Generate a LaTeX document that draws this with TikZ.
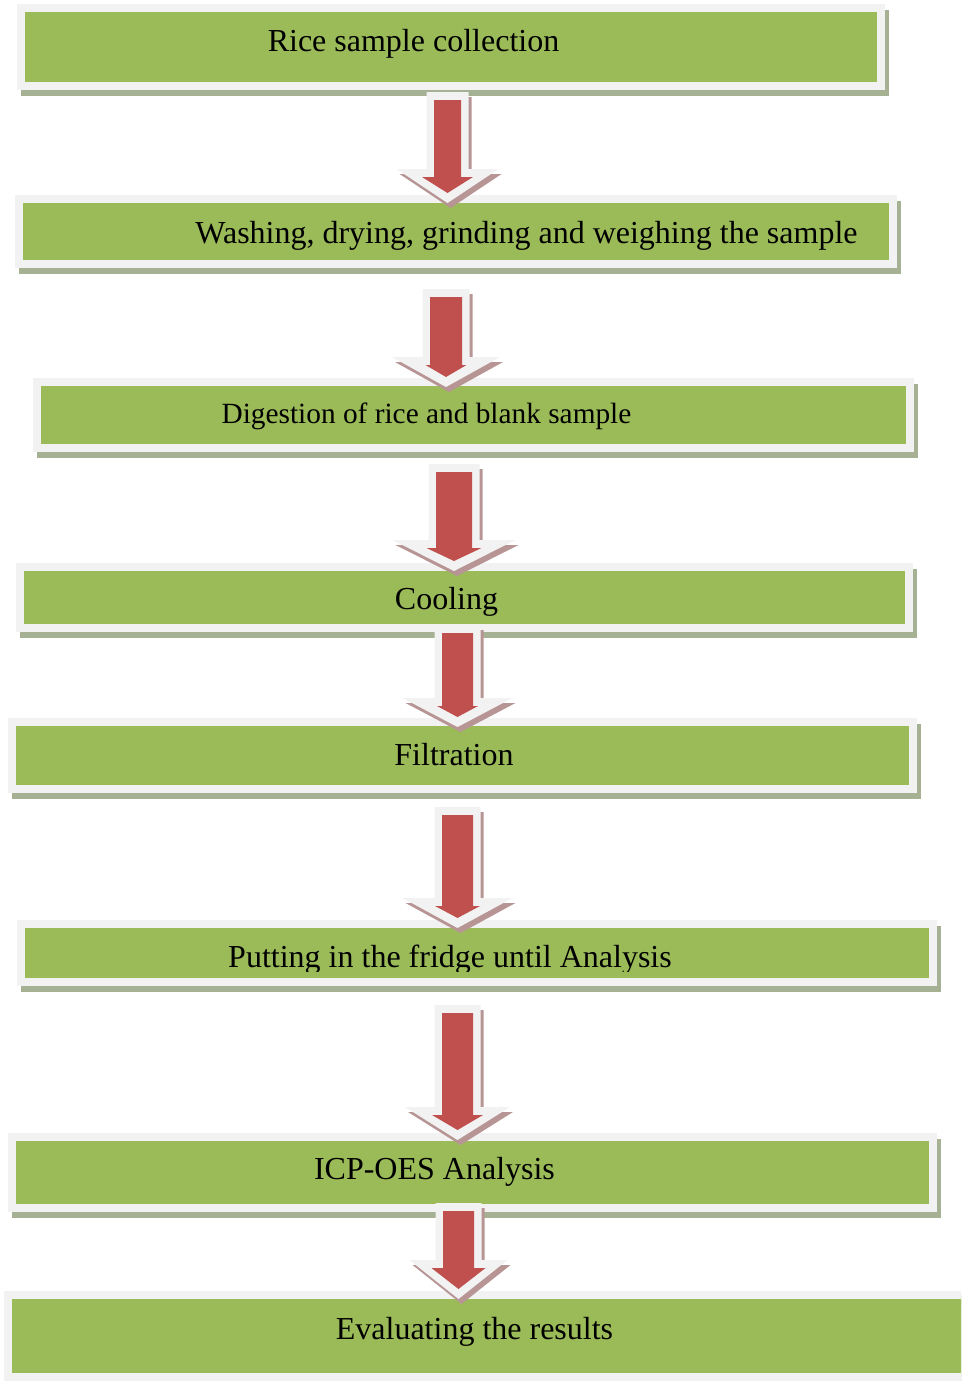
\documentclass[tikz,border=0pt]{standalone}
\usepackage{fontspec}
\setmainfont{Liberation Serif}
\usepackage{tikz}
\usetikzlibrary{calc,fit}
\usepackage{xcolor}
\definecolor{stagegreen}{HTML}{9BBB59}
\definecolor{stageframe}{HTML}{F2F2F2}
\definecolor{stageshadow}{HTML}{A6B093}
\definecolor{arrowred}{HTML}{C0504D}
\definecolor{arrowshadow}{HTML}{B89595}

% outline of a block arrow: top, tip, shaft half width, head length, wing half width
\newcommand\arrowhull[5]{($(#1)+(-#3-7.5,-8)$) -- ($(#2)+(-#3-7.5,-#4-8)$)
  -- ($(#2)+(-#5,-#4-8)$) -- ($(#2)+(0,10)$) -- ($(#2)+(#5,-#4-8)$)
  -- ($(#2)+(#3+7.5,-#4-8)$) -- ($(#1)+(#3+7.5,-8)$) -- cycle}
\newcommand\flowarrow[6]{%
  \fill[arrowshadow, transform canvas={shift={(3,5)}}] \arrowhull{#1}{#2}{#3}{#4}{#6};
  \fill[stageframe] \arrowhull{#1}{#2}{#3}{#4}{#6};
  \fill[arrowred] ($(#1)+(-#3,0)$) -- ($(#2)+(-#3,-#4)$) -- ($(#2)+(-#5,-#4)$) -- (#2)
    -- ($(#2)+(#5,-#4)$) -- ($(#2)+(#3,-#4)$) -- ($(#1)+(#3,0)$) -- cycle;}

\begin{document}
\begin{tikzpicture}[x=0.75pt, y=-0.75pt,
      stage/.style={fill=stagegreen, draw=stageframe, line width=6pt, inner sep=0pt,
                    preaction={draw=stageshadow, fill=stageshadow,
                               transform canvas={shift={(4,6)}}}},
      stagetext/.style={anchor=base, inner sep=0pt, font=\fontsize{24}{28}\selectfont}]
    \useasboundingbox (0,0) rectangle (961,1381);
    \clip (0,0) rectangle (961,1381);
    % boxes
    \node[stage, fit={(21,8) (881,86)}] (b1) {};
    \node[stage, fit={(19,199) (893,264)}] (b2) {};
    \node[stage, fit={(37,382) (910,448)}] (b3) {};
    \node[stage, fit={(20,567) (909,628)}] (b4) {};
    \node[stage, fit={(12,722) (913,789)}] (b5) {};
    \node[stage, fit={(21,924) (933,982)}] (b6) {};
    \node[stage, fit={(12,1137) (933,1208)}] (b7) {};
    \node[stage, fit={(8,1295) (984,1377)}] (b8) {};
    % labels
    \node[stagetext] (t1) at (413.5,51) {Rice sample collection};
    \node[stagetext] (t2) at (526.5,243) {Washing, drying, grinding and weighing the sample};
    \node[stagetext, font=\fontsize{22}{26}\selectfont] (t3) at (426.5,423) {Digestion of rice and blank sample};
    \node[stagetext] (t4) at (446.5,609) {Cooling};
    \node[stagetext] (t5) at (454,765) {Filtration};
    \begin{scope}
      \clip (0,924) rectangle (961,971);
      \node[stagetext] (t6) at (450,967) {Putting in the fridge until Analysis};
    \end{scope}
    \node[stagetext] (t7) at (434.5,1179) {ICP-OES Analysis};
    \node[stagetext] (t8) at (474.5,1339) {Evaluating the results};
    % arrows between the boxes
    \coordinate (a1t) at (447.5,100);  \coordinate (a1p) at (447.5,193);
    \coordinate (a2t) at (446,297);    \coordinate (a2p) at (446,377);
    \coordinate (a3t) at (454,472);    \coordinate (a3p) at (454,561);
    \coordinate (a4t) at (457.5,633);  \coordinate (a4p) at (457.5,717);
    \coordinate (a5t) at (457.5,815);  \coordinate (a5p) at (457.5,918);
    \coordinate (a6t) at (457.5,1013); \coordinate (a6p) at (457.5,1130);
    \coordinate (a7t) at (458.5,1211); \coordinate (a7p) at (458.5,1289);
    \flowarrow{a1t}{a1p}{13.5}{16}{25.5}{51}
    \flowarrow{a2t}{a2p}{16}{12}{20.5}{54}
    \flowarrow{a3t}{a3p}{18}{13}{27.5}{61.5}
    \flowarrow{a4t}{a4p}{15.5}{11}{20.5}{55}
    \flowarrow{a5t}{a5p}{15.5}{12}{22.5}{55}
    \flowarrow{a6t}{a6p}{15.5}{15}{25.5}{52.5}
    \flowarrow{a7t}{a7p}{15.5}{21}{27}{49}
  \end{tikzpicture}
\end{document}
